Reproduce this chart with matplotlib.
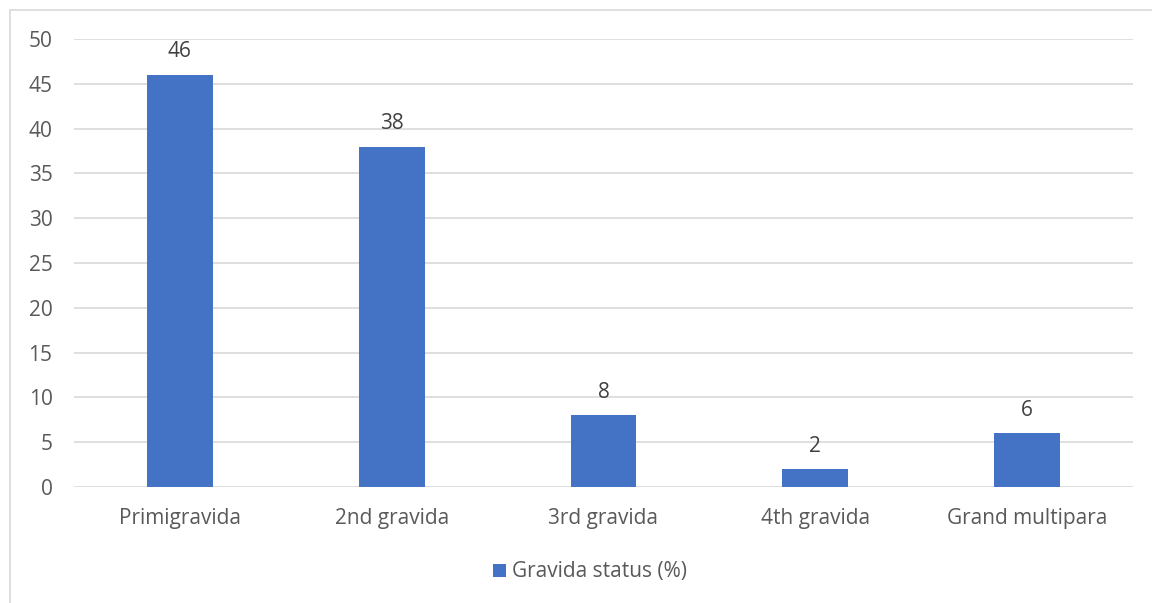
import matplotlib
matplotlib.use("Agg")
import matplotlib.pyplot as plt
from matplotlib.patches import Rectangle

categories = ["Primigravida", "2nd gravida", "3rd gravida", "4th gravida", "Grand multipara"]
values = [46, 38, 8, 2, 6]
series_name = "Gravida status (%)"

bar_color = "#4472C4"
text_color = "#595959"
grid_color = "#D9D9D9"

plt.rcParams['font.family'] = ['Open Sans', 'DejaVu Sans']

fig = plt.figure(figsize=(11.52, 6.03), dpi=100)
ax = fig.add_axes([74/1152, 1 - 487/603, (1133 - 74)/1152, (487 - 39)/603])

# outer chart frame (right and bottom run off the image)
fig.patches.append(Rectangle((10/1152, -0.05), 1.2, 1 - 10/603 + 0.05,
                             transform=fig.transFigure, fill=False,
                             edgecolor=grid_color, linewidth=1.2))

x = range(len(categories))
bars = ax.bar(x, values, width=0.31, color=bar_color, label=series_name, zorder=3)

for xi, v in zip(x, values):
    ax.annotate(str(v), (xi, v), xytext=(0, 9), textcoords="offset points",
                ha="center", va="bottom", fontsize=15, color="#404040")

ax.set_xlim(-0.5, len(categories) - 0.5)
ax.set_ylim(0, 50)
ax.set_yticks(range(0, 51, 5))
ax.set_xticks(list(x))
ax.set_xticklabels(categories)
ax.yaxis.grid(True, color=grid_color, linewidth=1.2, zorder=0)
ax.set_axisbelow(True)
for s in ax.spines.values():
    s.set_visible(False)
ax.tick_params(axis='both', length=0, labelsize=15, labelcolor=text_color)
ax.tick_params(axis='y', pad=15.5)
ax.tick_params(axis='x', pad=15)

fig.legend(handles=[bars], labels=[series_name], loc="center",
           bbox_to_anchor=(590/1152, 1 - 572/603), frameon=False,
           fontsize=15, labelcolor=text_color, handlelength=0.6,
           handleheight=0.6, handletextpad=0.3)

fig.savefig("out.png", dpi=100)
plt.close(fig)
